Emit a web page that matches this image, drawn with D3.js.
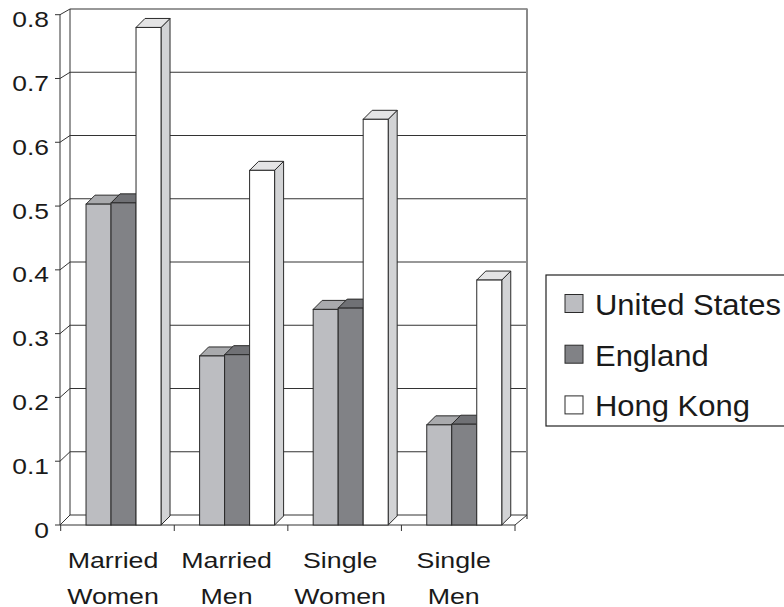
<!DOCTYPE html>
<html>
<head>
<meta charset="utf-8">
<script src="https://cdnjs.cloudflare.com/ajax/libs/d3/7.8.5/d3.min.js"></script>
<style>
  html, body { margin: 0; padding: 0; background: #fff; }
  svg { display: block; }
  text { font-family: "Liberation Sans", Arial, Helvetica, sans-serif; fill: #1a1a1a; }
</style>
</head>
<body>
<svg id="chart" width="784" height="607"></svg>
<script>
const categories = ["Married Women", "Married Men", "Single Women", "Single Men"];
const series = ["United States", "England", "Hong Kong"];
const usValues = [0.503, 0.265, 0.338, 0.157];
const englandValues = [0.505, 0.267, 0.340, 0.158];
const hongKongValues = [0.780, 0.556, 0.636, 0.384];
const yTickValues = [0, 0.1, 0.2, 0.3, 0.4, 0.5, 0.6, 0.7, 0.8];
const yTickLabels = ["0", "0.1", "0.2", "0.3", "0.4", "0.5", "0.6", "0.7", "0.8"];

const seriesValues = [usValues, englandValues, hongKongValues];
const fronts = ["#bcbdc1", "#818286", "#ffffff"];
const tops = ["#a9aaad", "#707175", "#e4e4e5"];
const sides = ["#9c9da0", "#67686b", "#d2d3d5"];

const svg = d3.select("#chart");
const barDx = 9, barDy = -9;

const yFront = d3.scaleLinear().domain([0, 0.8]).range([525, 14.7]);
const yBack = d3.scaleLinear().domain([0, 0.8]).range([515, 9]);
const x0 = d3.scaleBand().domain(categories).range([60.7, 515]).paddingInner(0).paddingOuter(0);
const bw = x0.bandwidth();
const x1 = d3.scaleBand().domain(series).range([bw * 0.223, bw * 0.223 + 75]);

const backLeft = 70, backRight = 527;
const g = svg.append("g");

yTickValues.slice(1).forEach(v => {
  g.append("line").attr("x1", backLeft).attr("x2", backRight)
    .attr("y1", yBack(v)).attr("y2", yBack(v))
    .attr("stroke", "#333").attr("stroke-width", 1.1);
});
g.append("line").attr("x1", backLeft).attr("x2", backLeft)
  .attr("y1", yBack(0)).attr("y2", yBack(0.8)).attr("stroke", "#333").attr("stroke-width", 1);
g.append("line").attr("x1", backRight).attr("x2", backRight)
  .attr("y1", yBack(0) + 4).attr("y2", yBack(0.8) - 0.5).attr("stroke", "#8a8a8a").attr("stroke-width", 2);
g.append("line").attr("x1", backLeft).attr("x2", backRight)
  .attr("y1", yBack(0)).attr("y2", yBack(0)).attr("stroke", "#333").attr("stroke-width", 1);
yTickValues.forEach(v => {
  g.append("line").attr("x1", 60).attr("x2", backLeft)
    .attr("y1", yFront(v)).attr("y2", yBack(v))
    .attr("stroke", "#333").attr("stroke-width", 1);
});
g.append("line").attr("x1", 60).attr("x2", 60)
  .attr("y1", yFront(0)).attr("y2", yFront(0.8)).attr("stroke", "#333").attr("stroke-width", 1);
yTickValues.forEach((v, i) => {
  g.append("line").attr("x1", 55).attr("x2", 60)
    .attr("y1", yFront(v)).attr("y2", yFront(v)).attr("stroke", "#333");
  g.append("text")
    .attr("transform", `translate(49,${yFront(v) + 12.5}) scale(1.2,1)`)
    .attr("text-anchor", "end").attr("font-size", 22)
    .text(yTickLabels[i]);
});
g.append("line").attr("x1", 60).attr("x2", 515)
  .attr("y1", yFront(0)).attr("y2", yFront(0)).attr("stroke", "#333");
g.append("line").attr("x1", 515).attr("x2", backRight)
  .attr("y1", yFront(0)).attr("y2", yBack(0)).attr("stroke", "#333");
const boundaries = categories.map(c => x0(c)).concat([x0(categories[categories.length - 1]) + bw]);
boundaries.forEach(b => {
  g.append("line").attr("x1", b).attr("x2", b).attr("y1", 525).attr("y2", 531).attr("stroke", "#333");
});

categories.forEach((c, ci) => {
  series.forEach((s, si) => {
    const v = seriesValues[si][ci];
    const xl = x0(c) + x1(s);
    const xr = xl + x1.bandwidth();
    const yt = yFront(v), yb = yFront(0);
    const bar = g.append("g");
    bar.append("polygon")
      .attr("points", [[xr, yb], [xr, yt], [xr + barDx, yt + barDy], [xr + barDx, yb + barDy]].map(p => p.join(",")).join(" "))
      .attr("fill", sides[si]).attr("stroke", "#2a2a2a").attr("stroke-width", 1).attr("stroke-linejoin", "round");
    bar.append("polygon")
      .attr("points", [[xl, yt], [xr, yt], [xr + barDx, yt + barDy], [xl + barDx, yt + barDy]].map(p => p.join(",")).join(" "))
      .attr("fill", tops[si]).attr("stroke", "#2a2a2a").attr("stroke-width", 1).attr("stroke-linejoin", "round");
    bar.append("rect")
      .attr("x", xl).attr("y", yt).attr("width", xr - xl).attr("height", yb - yt)
      .attr("fill", fronts[si]).attr("stroke", "#2a2a2a").attr("stroke-width", 1);
  });
  const parts = c.split(" ");
  const cx = x0(c) + bw / 2 - 4.5;
  parts.forEach((p, pi) => {
    g.append("text")
      .attr("transform", `translate(${cx},${568 + pi * 35.5}) scale(1.2,1)`)
      .attr("text-anchor", "middle").attr("font-size", 22.3)
      .text(p);
  });
});

const lg = svg.append("g");
lg.append("rect").attr("x", 546).attr("y", 275).attr("width", 260).attr("height", 151)
  .attr("fill", "#fff").attr("stroke", "#222").attr("stroke-width", 1.2);
series.forEach((s, i) => {
  const yy = 294.5 + i * 50.7;
  lg.append("rect").attr("x", 565).attr("y", yy).attr("width", 18).attr("height", 18)
    .attr("fill", fronts[i]).attr("stroke", "#2a2a2a").attr("stroke-width", 1);
  lg.append("text")
    .attr("transform", `translate(595,${yy + 20.5}) scale(1.05,1)`)
    .attr("font-size", 29.5).text(s);
});
</script>
</body>
</html>
